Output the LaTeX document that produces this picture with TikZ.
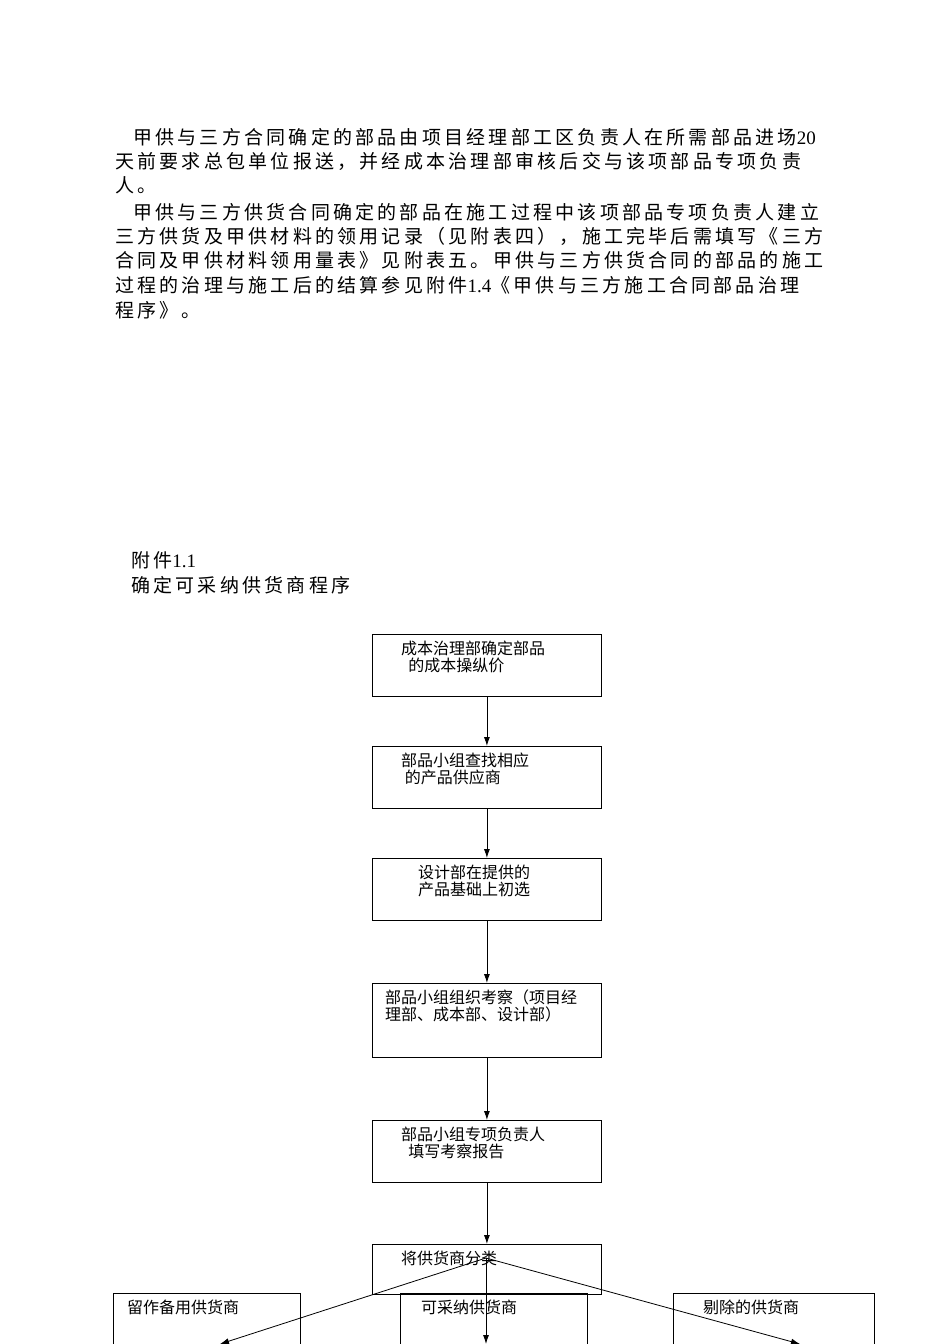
\documentclass[tikz,border=0pt]{standalone}
\usetikzlibrary{arrows.meta}
\usepackage{fontspec}
\setmainfont{Liberation Serif}
\newfontfamily\cjk[LetterSpace=17]{Noto Sans CJK SC}
\newfontfamily\cjkb{Noto Sans CJK SC}
\begin{document}
\begin{tikzpicture}[x=1pt,y=-1pt,
 bx/.style={draw,thick,minimum width=229pt,anchor=north west,inner sep=0pt},
 para/.style={anchor=west,inner sep=0pt,font=\fontsize{19}{22}\selectfont},
 bt/.style={anchor=north west,inner sep=0pt,font=\cjkb\fontsize{16}{17}\selectfont,align=left},
 arr/.style={-{Latex[length=9pt,width=6pt]},thick}]
\useasboundingbox (0,0) rectangle (950,1344);
\fill[white] (0,0) rectangle (950,1344);
\node[para] (p1) at (133,137) {\cjk 甲供与三方合同确定的部品由项目经理部工区负责人在所需部品进场\rm 20};
\node[para] (p2) at (115,161) {\cjk 天前要求总包单位报送，并经成本治理部审核后交与该项部品专项负责};
\node[para] (p3) at (115,185) {\cjk 人。};
\node[para] (p4) at (133,212) {\cjk 甲供与三方供货合同确定的部品在施工过程中该项部品专项负责人建立};
\node[para] (p5) at (115,236) {\cjk 三方供货及甲供材料的领用记录（见附表四），施工完毕后需填写《三方};
\node[para] (p6) at (115,260) {\cjk 合同及甲供材料领用量表》见附表五。甲供与三方供货合同的部品的施工};
\node[para] (p7) at (115,285) {\cjk 过程的治理与施工后的结算参见附件\rm 1.4\cjk《甲供与三方施工合同部品治理};
\node[para] (p8) at (115,310) {\cjk 程序》。};
\node[para] (a1) at (131,560) {\cjk 附件\rm 1.1};
\node[para] (a2) at (131,585) {\cjk 确定可采纳供货商程序};

\node[bx,minimum height=62pt] (b1) at (372,634) {};
\node[bt] at (401,641) {成本治理部确定部品\\\ \ 的成本操纵价};
\node[bx,minimum height=62pt] (b2) at (372,746) {};
\node[bt] at (401,753) {部品小组查找相应\\\ 的产品供应商};
\node[bx,minimum height=62pt] (b3) at (372,858) {};
\node[bt] at (418,865) {设计部在提供的\\产品基础上初选};
\node[bx,minimum height=74pt] (b4) at (372,983) {};
\node[bt] at (385,990) {部品小组组织考察（项目经\\理部、成本部、设计部）};
\node[bx,minimum height=62pt] (b5) at (372,1120) {};
\node[bt] at (401,1127) {部品小组专项负责人\\\ \ 填写考察报告};
\node[bx,minimum height=50pt] (b6) at (372,1244) {};
\node[bt] at (401,1251) {将供货商分类};
\node[bx,minimum width=187pt,minimum height=51pt] (c1) at (113,1293) {};
\node[bt] at (127,1300) {留作备用供货商};
\node[bx,minimum width=187pt,minimum height=51pt] (c2) at (400,1293) {};
\node[bt] at (421,1300) {可采纳供货商};
\node[bx,minimum width=201pt,minimum height=51pt] (c3) at (673,1293) {};
\node[bt] at (703,1300) {剔除的供货商};
\coordinate (h) at (486,1258);
\coordinate (e1) at (220,1344);
\coordinate (e2) at (486,1344);
\coordinate (e3) at (800,1344);
\draw[arr] (b1.south) -- (b2.north);
\draw[arr] (b2.south) -- (b3.north);
\draw[arr] (b3.south) -- (b4.north);
\draw[arr] (b4.south) -- (b5.north);
\draw[arr] (b5.south) -- (b6.north);
\draw[arr] (h) -- (e1);
\draw[arr] (h) -- (e2);
\draw[arr] (h) -- (e3);
\end{tikzpicture}
\end{document}
